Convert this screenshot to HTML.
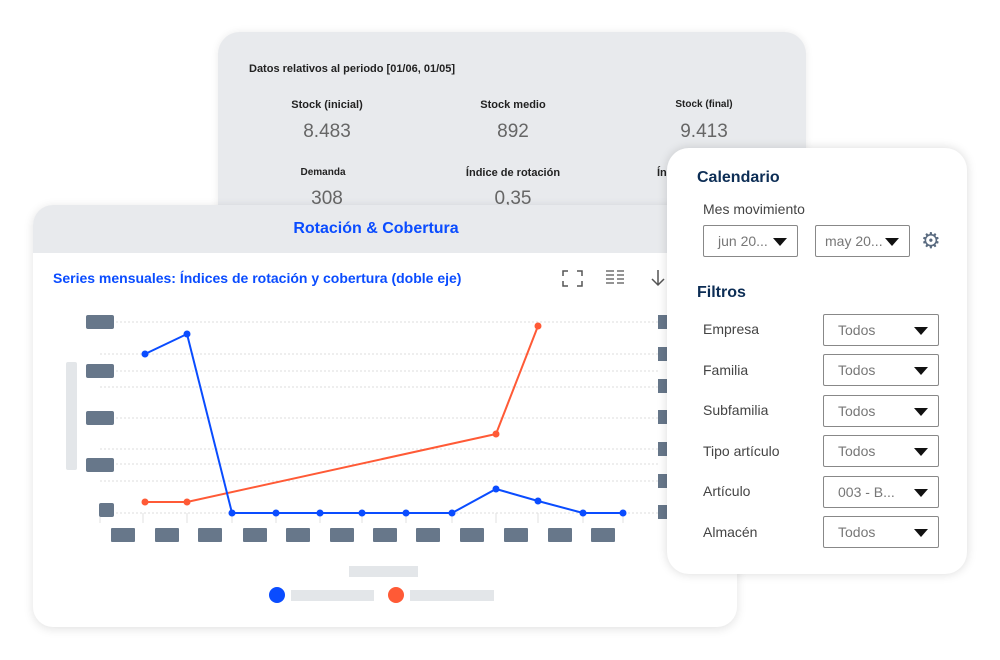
<!DOCTYPE html>
<html><head><meta charset="utf-8"><style>
body{margin:0;width:1000px;height:660px;background:#fff;position:relative;overflow:hidden;font-family:"Liberation Sans",sans-serif}
.abs{position:absolute}
#top{left:218px;top:32px;width:588px;height:200px;background:#e8eaed;border-radius:22px;box-shadow:0 0 8px rgba(0,0,0,.08)}
.lab{position:absolute;font-size:11px;font-weight:bold;color:#222;text-align:center;width:160px}
.val{position:absolute;font-size:19px;color:#666;text-align:center;width:160px}
#chart{left:33px;top:205px;width:704px;height:422px;background:#fff;border-radius:20px;box-shadow:0 2px 10px rgba(0,0,0,.12);overflow:hidden}
#panel{left:667px;top:148px;width:300px;height:426px;background:#fff;border-radius:22px;box-shadow:0 0 10px rgba(0,0,0,.15)}
.sel{position:absolute;border:1px solid #888;border-radius:2px;height:32px;box-sizing:border-box;font-size:14px;color:#777;line-height:30px;padding-left:14px}
.sel:after{content:"";position:absolute;right:10px;top:12px;border-left:7px solid transparent;border-right:7px solid transparent;border-top:8px solid #111}
.fl{position:absolute;left:36px;font-size:14px;color:#444}
</style></head><body>
<div id="top" class="abs">
<div class="abs" style="left:31px;top:31px;font-size:11px;font-weight:bold;color:#222">Datos relativos al periodo [01/06, 01/05]</div>
<div class="lab" style="left:29px;top:67px">Stock (inicial)</div><div class="val" style="left:29px;top:89px">8.483</div>
<div class="lab" style="left:215px;top:67px">Stock medio</div><div class="val" style="left:215px;top:89px">892</div>
<div class="lab" style="left:406px;top:67px;font-size:10px">Stock (final)</div><div class="val" style="left:406px;top:89px">9.413</div>
<div class="lab" style="left:25px;top:135px;font-size:10px">Demanda</div><div class="val" style="left:29px;top:156px">308</div>
<div class="lab" style="left:215px;top:135px">Índice de rotación</div><div class="val" style="left:215px;top:156px">0,35</div>
<div class="abs" style="left:439px;top:135px;font-size:11px;font-weight:bold;color:#222">Índice de cobertura</div>
</div>
<div id="chart" class="abs">
<div class="abs" style="left:0;top:0;width:704px;height:48px;background:#e8eaed"></div>
<div class="abs" style="left:0;top:15px;width:686px;text-align:center;font-size:16px;font-weight:bold;color:#0a4cff">Rotación &amp; Cobertura</div>
<div class="abs" style="left:20px;top:65px;font-size:14px;font-weight:bold;color:#0a4cff">Series mensuales: Índices de rotación y cobertura (doble eje)</div>
</div>
<svg class="abs" style="left:0;top:0" width="1000" height="660">
<g stroke="#555" fill="none" stroke-width="1.5"><path d="M563 276v-5h5M577 271h5v5M582 281v5h-5M568 286h-5v-5"/><path d="M606 271h8M606 275h8M606 279h8M606 283h8M617 271h7M617 275h7M617 279h7M617 283h7" stroke-width="1.2"/><path d="M658 270v15M652 279l6 6 6-6"/></g>
<g stroke="#ddd" stroke-dasharray="2 2"><path d="M100 322H660M100 354H660M100 371H660M100 387H660M100 418H660M100 449H660M100 464H660M100 481H660M100 513H660"/></g>
<g stroke="#e0e0e0"><path d="M100 513v10M143 513v10M187 513v10M232 513v10M276 513v10M320 513v10M362 513v10M406 513v10M452 513v10M496 513v10M538 513v10M583 513v10M623 513v10"/></g>
<g fill="#67778a"><rect x="86" y="315" width="28" height="14" rx="2"/><rect x="86" y="364" width="28" height="14" rx="2"/><rect x="86" y="411" width="28" height="14" rx="2"/><rect x="86" y="458" width="28" height="14" rx="2"/><rect x="99" y="503" width="15" height="14" rx="2"/>
<rect x="658" y="315" width="12" height="14"/><rect x="658" y="347" width="12" height="14"/><rect x="658" y="379" width="12" height="14"/><rect x="658" y="410" width="12" height="14"/><rect x="658" y="442" width="12" height="14"/><rect x="658" y="474" width="12" height="14"/><rect x="658" y="505" width="12" height="14"/>
<rect x="111" y="528" width="24" height="14" rx="1"/><rect x="155" y="528" width="24" height="14" rx="1"/><rect x="198" y="528" width="24" height="14" rx="1"/><rect x="243" y="528" width="24" height="14" rx="1"/><rect x="286" y="528" width="24" height="14" rx="1"/><rect x="330" y="528" width="24" height="14" rx="1"/><rect x="373" y="528" width="24" height="14" rx="1"/><rect x="416" y="528" width="24" height="14" rx="1"/><rect x="460" y="528" width="24" height="14" rx="1"/><rect x="504" y="528" width="24" height="14" rx="1"/><rect x="548" y="528" width="24" height="14" rx="1"/><rect x="591" y="528" width="24" height="14" rx="1"/></g>
<g fill="#e3e6e9"><rect x="66" y="362" width="11" height="108" rx="2"/><rect x="349" y="566" width="69" height="11"/><rect x="291" y="590" width="83" height="11"/><rect x="410" y="590" width="84" height="11"/></g>
<circle cx="277" cy="595" r="8" fill="#0a4cff"/><circle cx="396" cy="595" r="8" fill="#ff5a36"/>
<polyline fill="none" stroke="#ff5a36" stroke-width="2" points="145,502 187,502 496,434 538,326"/>
<g fill="#ff5a36"><circle cx="145" cy="502" r="3.5"/><circle cx="187" cy="502" r="3.5"/><circle cx="496" cy="434" r="3.5"/><circle cx="538" cy="326" r="3.5"/></g>
<polyline fill="none" stroke="#0a4cff" stroke-width="2" points="145,354 187,334 232,513 276,513 320,513 362,513 406,513 452,513 496,489 538,501 583,513 623,513"/>
<g fill="#0a4cff"><circle cx="145" cy="354" r="3.5"/><circle cx="187" cy="334" r="3.5"/><circle cx="232" cy="513" r="3.5"/><circle cx="276" cy="513" r="3.5"/><circle cx="320" cy="513" r="3.5"/><circle cx="362" cy="513" r="3.5"/><circle cx="406" cy="513" r="3.5"/><circle cx="452" cy="513" r="3.5"/><circle cx="496" cy="489" r="3.5"/><circle cx="538" cy="501" r="3.5"/><circle cx="583" cy="513" r="3.5"/><circle cx="623" cy="513" r="3.5"/></g>
</svg>
<div id="panel" class="abs">
<div class="abs" style="left:30px;top:21px;font-size:16px;font-weight:bold;color:#0c2d55">Calendario</div>
<div class="abs" style="left:36px;top:53px;font-size:14px;color:#444">Mes movimiento</div>
<div class="sel" style="left:36px;top:77px;width:95px;color:#777">jun 20...</div>
<div class="sel" style="left:148px;top:77px;width:95px;padding-left:9px">may 20...</div>
<div class="abs" style="left:254px;top:80px;font-size:22px;color:#5a6b80">⚙</div>
<div class="abs" style="left:30px;top:136px;font-size:16px;font-weight:bold;color:#0c2d55">Filtros</div>
<div class="fl" style="top:173px">Empresa</div><div class="sel" style="left:156px;top:166px;width:116px">Todos</div>
<div class="fl" style="top:214px">Familia</div><div class="sel" style="left:156px;top:206px;width:116px">Todos</div>
<div class="fl" style="top:254px">Subfamilia</div><div class="sel" style="left:156px;top:247px;width:116px">Todos</div>
<div class="fl" style="top:295px">Tipo artículo</div><div class="sel" style="left:156px;top:287px;width:116px">Todos</div>
<div class="fl" style="top:335px">Artículo</div><div class="sel" style="left:156px;top:328px;width:116px">003 - B...</div>
<div class="fl" style="top:376px">Almacén</div><div class="sel" style="left:156px;top:368px;width:116px">Todos</div>
</div>
</body></html>
